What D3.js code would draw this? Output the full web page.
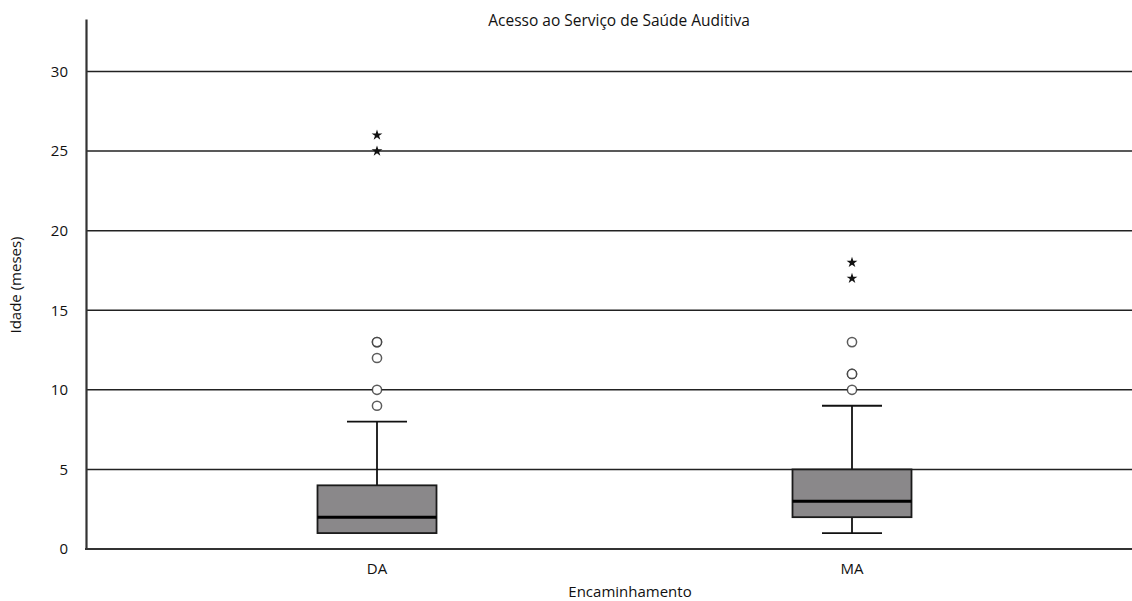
<!DOCTYPE html>
<html>
<head>
<meta charset="utf-8">
<script src="https://cdn.jsdelivr.net/npm/d3@7"></script>
<style>
  body { margin: 0; background: #fff; }
  svg text { font-family: "Open Sans", "Noto Sans", sans-serif; fill: #111; }
</style>
</head>
<body>
<svg id="chart" width="1132" height="601"></svg>
<script>
// Referral groups and their box-plot summaries (age in months)
const categories = ["DA", "MA"];
const lowerWhisker = [1, 1];
const q1 = [1, 2];
const median = [2, 3];
const q3 = [4, 5];
const upperWhisker = [8, 9];
// Outliers (circles) and extreme values (stars); repeats are overlapping cases
const outliers = [[9, 10, 12, 13, 13], [10, 11, 11, 13]];
const extremes = [[25, 26], [17, 18]];
const yTicks = [0, 5, 10, 15, 20, 25, 30];

const svg = d3.select("#chart");
const margin = { left: 86, right: 0, top: 19, bottom: 52 };
const W = 1132, H = 601;

const x = d3.scalePoint().domain(categories).range([377, 852]);
const y = d3.scaleLinear().domain([0, 33.3]).range([549, margin.top]);

// Horizontal gridlines
svg.append("g").selectAll("line").data(yTicks.filter(d => d > 0)).join("line")
  .attr("x1", margin.left).attr("x2", W)
  .attr("y1", d => y(d)).attr("y2", d => y(d))
  .attr("stroke", "#222").attr("stroke-width", 1.5);

// Y axis
const yAxis = svg.append("g").attr("transform", `translate(${margin.left},0)`)
  .call(d3.axisLeft(y).tickValues(yTicks).tickSize(0).tickPadding(18).tickFormat(d3.format("d")));
yAxis.select(".domain").attr("stroke", "#333").attr("stroke-width", 2.2);
yAxis.selectAll("text").style("font-size", "15px");

// X axis baseline
svg.append("line")
  .attr("x1", margin.left - 1).attr("x2", W)
  .attr("y1", y(0)).attr("y2", y(0))
  .attr("stroke", "#333").attr("stroke-width", 2.2);

// Category labels
svg.append("g").selectAll("text").data(categories).join("text")
  .attr("x", d => x(d)).attr("y", 574)
  .attr("text-anchor", "middle").style("font-size", "15px")
  .text(d => d);

const boxW = 119, capW = 60;
const groups = svg.append("g").selectAll("g").data(categories).join("g");

// Whiskers
groups.append("line")
  .attr("x1", d => x(d)).attr("x2", d => x(d))
  .attr("y1", (d, i) => y(lowerWhisker[i])).attr("y2", (d, i) => y(upperWhisker[i]))
  .attr("stroke", "#111").attr("stroke-width", 1.8);
groups.append("line")
  .attr("x1", d => x(d) - capW / 2).attr("x2", d => x(d) + capW / 2)
  .attr("y1", (d, i) => y(upperWhisker[i])).attr("y2", (d, i) => y(upperWhisker[i]))
  .attr("stroke", "#111").attr("stroke-width", 1.8);
groups.filter((d, i) => lowerWhisker[i] < q1[i]).append("line")
  .attr("x1", d => x(d) - capW / 2).attr("x2", d => x(d) + capW / 2)
  .attr("y1", d => y(lowerWhisker[categories.indexOf(d)]))
  .attr("y2", d => y(lowerWhisker[categories.indexOf(d)]))
  .attr("stroke", "#111").attr("stroke-width", 1.8);

// Boxes
groups.append("rect")
  .attr("x", d => x(d) - boxW / 2).attr("width", boxW)
  .attr("y", (d, i) => y(q3[i])).attr("height", (d, i) => y(q1[i]) - y(q3[i]))
  .attr("fill", "#8a888a").attr("stroke", "#1a1a1a").attr("stroke-width", 1.8);

// Medians
groups.append("line")
  .attr("x1", d => x(d) - boxW / 2).attr("x2", d => x(d) + boxW / 2)
  .attr("y1", (d, i) => y(median[i])).attr("y2", (d, i) => y(median[i]))
  .attr("stroke", "#000").attr("stroke-width", 3);

// Outlier circles
groups.each(function(d, i) {
  d3.select(this).selectAll("circle").data(outliers[i]).join("circle")
    .attr("cx", x(d)).attr("cy", v => y(v)).attr("r", 4.6)
    .attr("fill", "#fff").attr("stroke", "#333").attr("stroke-width", 1.5)
    .attr("stroke-opacity", 0.8);
});

// Extreme-value stars
const star = d3.symbol().type(d3.symbolStar).size(36);
groups.each(function(d, i) {
  d3.select(this).selectAll("path.ext").data(extremes[i]).join("path")
    .attr("class", "ext")
    .attr("transform", v => `translate(${x(d)},${y(v)})`)
    .attr("d", star).attr("fill", "#111");
});

// Titles
svg.append("text").attr("x", 619).attr("y", 26)
  .attr("text-anchor", "middle").style("font-size", "15.5px")
  .text("Acesso ao Serviço de Saúde Auditiva");
svg.append("text").attr("x", 630).attr("y", 597)
  .attr("text-anchor", "middle").style("font-size", "15px")
  .text("Encaminhamento");
svg.append("text")
  .attr("transform", "translate(21,285) rotate(-90)")
  .attr("text-anchor", "middle").style("font-size", "15px")
  .text("Idade (meses)");
</script>
</body>
</html>
